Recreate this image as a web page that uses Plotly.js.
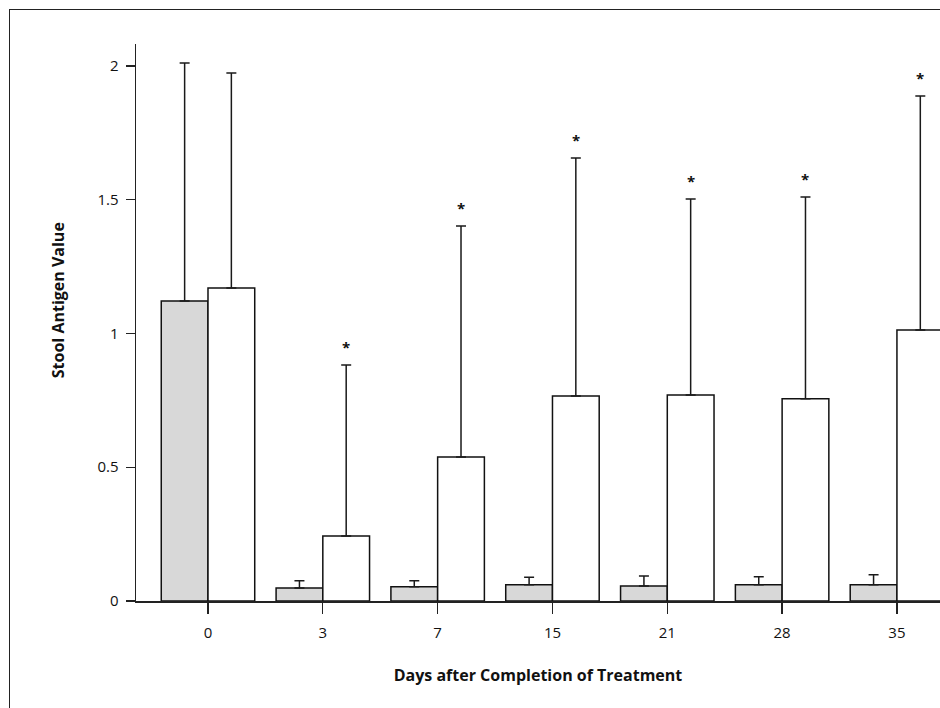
<!DOCTYPE html>
<html>
<head>
<meta charset="utf-8">
<script src="https://cdn.plot.ly/plotly-3.0.1.min.js"></script>
<style>
html,body{margin:0;padding:0;background:#fff;}
#wrap{position:relative;width:940px;height:708px;overflow:hidden;}
#chart{width:940px;height:708px;}
#frame{position:absolute;left:9px;top:9px;width:1000px;height:1000px;border-left:1.6px solid #222;border-top:1.6px solid #222;pointer-events:none;}
</style>
</head>
<body>
<div id="wrap"><div id="chart"></div><div id="frame"></div></div>
<script>
const days = ["0", "3", "7", "15", "21", "28", "35"];
const grayValues  = [1.121, 0.049, 0.053, 0.061, 0.056, 0.061, 0.061];
const grayErrors  = [0.890, 0.027, 0.023, 0.028, 0.037, 0.030, 0.037];
const whiteValues = [1.170, 0.243, 0.538, 0.766, 0.770, 0.756, 1.013];
const whiteErrors = [0.804, 0.639, 0.864, 0.890, 0.733, 0.754, 0.875];
const significant = [false, true, true, true, true, true, true];

const xRange = [-0.627, 6.375];
const bargap = 0.186;
const margin = {l: 136, r: 0, t: 44, b: 107};
const plotW = 940 - margin.l - margin.r;
const pxPerCat = plotW / (xRange[1] - xRange[0]);
const barOffsetPx = (1 - bargap) / 4 * pxPerCat;

const font = "'Open Sans', 'DejaVu Sans', sans-serif";

const traces = [
  {
    type: "bar", x: days, y: grayValues, name: "Group A",
    marker: {color: "#d8d8d8", line: {color: "#111", width: 1.5}},
    error_y: {type: "data", symmetric: false, array: grayErrors, arrayminus: grayErrors.map(() => 0),
              color: "#1a1a1a", thickness: 1.5, width: 5},
    hoverinfo: "skip"
  },
  {
    type: "bar", x: days, y: whiteValues, name: "Group B",
    marker: {color: "#ffffff", line: {color: "#111", width: 1.5}},
    error_y: {type: "data", symmetric: false, array: whiteErrors, arrayminus: whiteErrors.map(() => 0),
              color: "#1a1a1a", thickness: 1.5, width: 5},
    hoverinfo: "skip"
  }
];

const annotations = [];
days.forEach((d, i) => {
  if (significant[i]) {
    annotations.push({
      x: i, y: whiteValues[i] + whiteErrors[i], xref: "x", yref: "y",
      text: "<b>*</b>", showarrow: false, xshift: barOffsetPx, yshift: 18,
      font: {family: font, size: 15, color: "#111"}, xanchor: "center", yanchor: "middle"
    });
  }
});
annotations.push({
  xref: "paper", yref: "paper", x: -0.097, y: 0.54, xanchor: "center", yanchor: "middle",
  text: "<b>Stool Antigen Value</b>", textangle: -90, showarrow: false,
  font: {family: font, size: 16, color: "#111"}
});

const layout = {
  width: 940, height: 708,
  margin: margin,
  paper_bgcolor: "rgba(0,0,0,0)", plot_bgcolor: "rgba(0,0,0,0)",
  showlegend: false,
  barmode: "group", bargap: bargap, bargroupgap: 0,
  font: {family: font, size: 15, color: "#111"},
  xaxis: {
    type: "category", range: xRange,
    showline: true, linecolor: "#222", linewidth: 1.5,
    ticks: "outside", ticklen: 11, tickwidth: 1.3, tickcolor: "#222",
    ticklabelstandoff: 6,
    showgrid: false, zeroline: false,
    tickfont: {family: font, size: 15, color: "#111"},
    title: {text: "<b>Days after Completion of Treatment</b>", font: {family: font, size: 16, color: "#111"}, standoff: 29}
  },
  yaxis: {
    range: [0, 2.082], tickvals: [0, 0.5, 1, 1.5, 2], ticktext: ["0", "0.5", "1", "1.5", "2"],
    showline: true, linecolor: "#222", linewidth: 1.5,
    ticks: "outside", ticklen: 9, tickwidth: 1.3, tickcolor: "#222",
    ticklabelstandoff: 4,
    showgrid: false, zeroline: false,
    tickfont: {family: font, size: 15, color: "#111"}
  },
  annotations: annotations
};

Plotly.newPlot("chart", traces, layout, {staticPlot: true, displayModeBar: false});
</script>
</body>
</html>
